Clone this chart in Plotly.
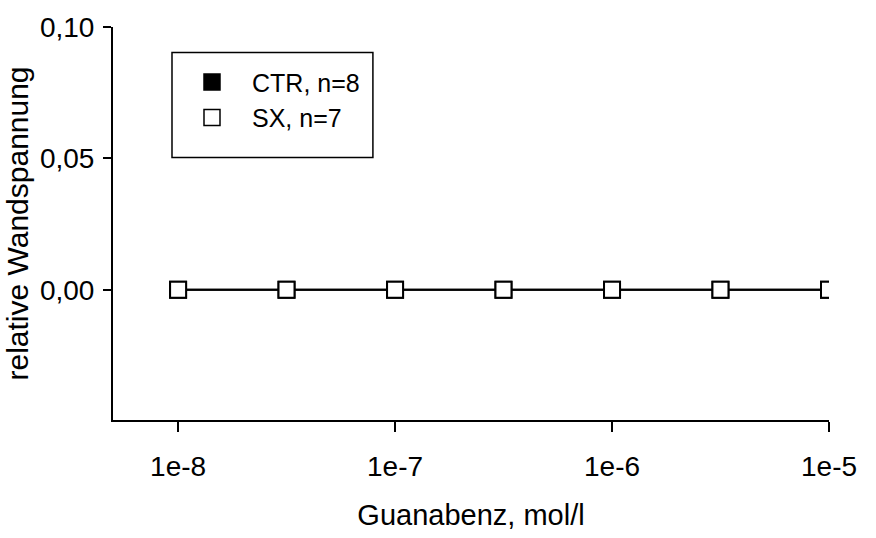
import plotly.graph_objects as go

# Guanabenz concentrations (mol/l), half-log steps
conc = [1e-8, 3.16e-8, 1e-7, 3.16e-7, 1e-6, 3.16e-6, 1e-5]
ctr_vals = [0.0, 0.0, 0.0, 0.0, 0.0, 0.0, 0.0]
sx_vals = [0.0, 0.0, 0.0, 0.0, 0.0, 0.0, 0.0]

series_names = ["CTR, n=8", "SX, n=7"]

y_ticks = [0.0, 0.05, 0.10]
y_labels = ["0,00", "0,05", "0,10"]
x_ticks = [1e-8, 1e-7, 1e-6, 1e-5]
x_labels = ["1e-8", "1e-7", "1e-6", "1e-5"]

font_family = "Liberation Sans, Arial, sans-serif"

fig = go.Figure()
# data curves (legend entries are drawn as plain squares below)
fig.add_trace(go.Scatter(
    x=conc, y=ctr_vals, name=series_names[0], mode="lines+markers",
    showlegend=False,
    line=dict(color="black", width=2),
    marker=dict(symbol="square", size=16, color="black",
                line=dict(color="black", width=2)),
))
fig.add_trace(go.Scatter(
    x=conc, y=sx_vals, name=series_names[1], mode="lines+markers",
    showlegend=False,
    line=dict(color="black", width=2),
    marker=dict(symbol="square", size=16, color="white",
                line=dict(color="black", width=2)),
))
# legend symbols: squares without the connecting line
for name, fill in zip(series_names, ["black", "white"]):
    fig.add_trace(go.Scatter(
        x=[None], y=[None], name=name, mode="markers",
        marker=dict(symbol="square", size=18, color=fill,
                    line=dict(color="black", width=1.5)),
    ))

# frame around the legend
fig.add_shape(
    type="rect", xref="paper", yref="paper",
    x0=0.0824, x1=0.363, y0=0.668, y1=0.935,
    line=dict(color="black", width=1.5), fillcolor="rgba(0,0,0,0)",
    layer="above",
)

fig.update_layout(
    width=876, height=538,
    margin=dict(l=113, r=47, t=22, b=115),
    plot_bgcolor="white", paper_bgcolor="white",
    font=dict(family=font_family, color="black"),
    showlegend=True,
    legend=dict(
        x=0.0824, y=0.918, xanchor="left", yanchor="top",
        borderwidth=0, bgcolor="rgba(0,0,0,0)",
        font=dict(size=25, family=font_family),
        itemsizing="trace", itemwidth=70,
        entrywidth=180,
    ),
    xaxis=dict(
        type="log", range=[-8.3, -5.0],
        tickvals=x_ticks, ticktext=x_labels,
        showline=True, linecolor="black", linewidth=2,
        ticks="outside", ticklen=10, tickwidth=2, tickcolor="black",
        showgrid=False, zeroline=False,
        tickfont=dict(size=28), ticklabelstandoff=10,
        title=dict(text="Guanabenz, mol/l", font=dict(size=29), standoff=24),
    ),
    yaxis=dict(
        range=[-0.0496, 0.10],
        tickvals=y_ticks, ticktext=y_labels,
        showline=True, linecolor="black", linewidth=2,
        ticks="outside", ticklen=8, tickwidth=2, tickcolor="black",
        showgrid=False, zeroline=False,
        tickfont=dict(size=28), ticklabelstandoff=3,
        title=dict(text="relative Wandspannung", font=dict(size=30), standoff=2),
    ),
)

fig.write_html("out.html")
